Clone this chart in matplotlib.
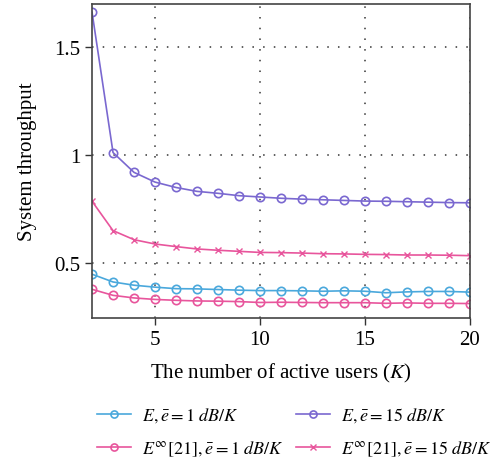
import matplotlib
matplotlib.use("Agg")
import matplotlib.pyplot as plt

plt.rcParams['font.family'] = ['Liberation Serif', 'DejaVu Serif']
plt.rcParams['mathtext.fontset'] = 'stix'

# number of active users
K = list(range(2, 21))

# E, e = 1 dB/K
e1 = [0.448, 0.412, 0.397, 0.388, 0.381, 0.380, 0.377, 0.374, 0.372, 0.372,
      0.371, 0.369, 0.371, 0.369, 0.362, 0.366, 0.368, 0.368, 0.365]
# E, e = 15 dB/K
e15 = [1.662, 1.012, 0.920, 0.875, 0.850, 0.832, 0.823, 0.812, 0.806, 0.800,
       0.796, 0.793, 0.790, 0.787, 0.786, 0.784, 0.782, 0.780, 0.779]
# E^inf [21], e = 1 dB/K
einf1 = [0.378, 0.350, 0.338, 0.331, 0.327, 0.324, 0.323, 0.321, 0.317, 0.318,
         0.317, 0.316, 0.316, 0.316, 0.313, 0.315, 0.313, 0.313, 0.312]
# E^inf [21], e = 15 dB/K
einf15 = [0.786, 0.650, 0.608, 0.588, 0.576, 0.565, 0.559, 0.554, 0.549, 0.548,
          0.546, 0.543, 0.542, 0.540, 0.539, 0.537, 0.537, 0.536, 0.534]

c_blue = '#4aa8dc'
c_purple = '#7a68d0'
c_pink = '#e8559c'

fig = plt.figure(figsize=(5.03, 4.64), dpi=100)
ax = fig.add_axes([0.183, 0.3125, 0.751, 0.6765])

l1, = ax.plot(K, e1, '-o', color=c_blue, lw=1.2, ms=6, mfc='none', mew=1.2)
l2, = ax.plot(K, e15, '-o', color=c_purple, lw=1.2, ms=6, mfc='none', mew=1.2)
l3, = ax.plot(K, einf1, '-o', color=c_pink, lw=1.2, ms=6, mfc='none', mew=1.2)
l4, = ax.plot(K, einf15, '-x', color=c_pink, lw=1.2, ms=4.5, mew=1.0)

ax.set_xlim(2, 20)
ax.set_ylim(0.245, 1.7)
ax.set_xticks([5, 10, 15, 20])
ax.set_yticks([0.5, 1, 1.5])
ax.set_yticklabels(['0.5', '1', '1.5'])
ax.grid(True, linestyle=(0, (1, 6)), color='#333333', lw=1.1)
ax.tick_params(direction='out', length=5, width=1, labelsize=15, color='#333333')
for s in ax.spines.values():
    s.set_color('#444444')
    s.set_linewidth(1.2)

ax.set_xlabel('The number of active users ($K$)', fontsize=15, labelpad=9)
ax.set_ylabel('System throughput', fontsize=15, labelpad=12)

# legend filled column-wise: col 1 = 1 dB/K, col 2 = 15 dB/K
fig.legend([l1, l3, l2, l4],
           [r'$E, \bar{e} = 1\ dB/K$', r'$E^{\infty}[21], \bar{e} = 1\ dB/K$',
            r'$E, \bar{e} = 15\ dB/K$', r'$E^{\infty}[21], \bar{e} = 15\ dB/K$'],
           loc='lower left', bbox_to_anchor=(0.16, -0.025), ncol=2, frameon=False,
           fontsize=13, handlelength=1.9, handletextpad=0.6,
           columnspacing=0.7, labelspacing=0.8, markerscale=0.85)

fig.savefig('out.png', dpi=100)
